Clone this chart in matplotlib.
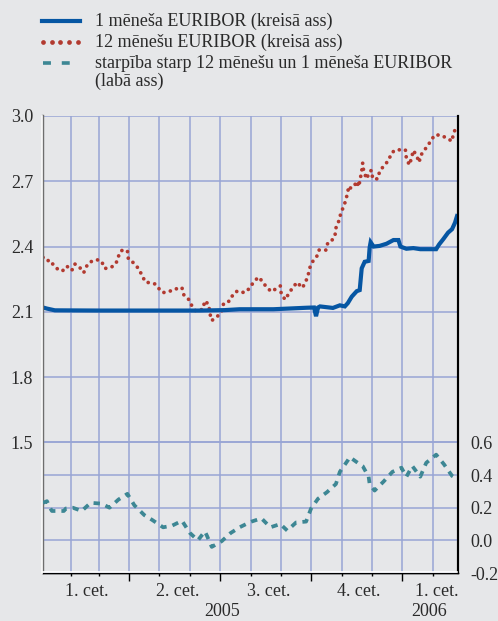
import pandas as pd
import matplotlib
matplotlib.use('Agg')
import matplotlib.pyplot as plt
import matplotlib.dates as mdates
from matplotlib.lines import Line2D

plt.rcParams['font.family'] = ['Liberation Serif', 'DejaVu Serif']

BG = '#e6e7e9'
GRID = '#98a5d5'
BLUE = '#0656a3'
RED = '#b23a30'
TEAL = '#3d8794'
TXT = '#2a2a2a'

# 1 month EURIBOR (left axis)
m1_dates = ['2005-01-04', '2005-01-08', '2005-01-16', '2005-03-02', '2005-04-21', '2005-06-11',
            '2005-07-06', '2005-07-21', '2005-08-24', '2005-09-27', '2005-10-04', '2005-10-06',
            '2005-10-08', '2005-10-10', '2005-10-23', '2005-10-30', '2005-11-04', '2005-11-07',
            '2005-11-11', '2005-11-16', '2005-11-19', '2005-11-21', '2005-11-24', '2005-11-28',
            '2005-11-29', '2005-11-30', '2005-12-03', '2005-12-09', '2005-12-16', '2005-12-23',
            '2005-12-28', '2005-12-30', '2006-01-05', '2006-01-12', '2006-01-19', '2006-02-04',
            '2006-02-07', '2006-02-11', '2006-02-16', '2006-02-20', '2006-02-23', '2006-02-25']
m1_vals = [2.12, 2.115, 2.107, 2.106, 2.106, 2.106,
           2.108, 2.112, 2.112, 2.119, 2.12, 2.08,
           2.12, 2.125, 2.118, 2.13, 2.125, 2.14,
           2.17, 2.195, 2.20, 2.30, 2.33, 2.334,
           2.395, 2.42, 2.40, 2.403, 2.413, 2.43,
           2.43, 2.40, 2.39, 2.393, 2.388, 2.388,
           2.41, 2.433, 2.464, 2.48, 2.51, 2.54]

# 12 month EURIBOR (left axis)
m12_dates = ['2005-01-04', '2005-01-08', '2005-01-11', '2005-01-14', '2005-01-16', '2005-01-20',
             '2005-01-24', '2005-01-28', '2005-02-02', '2005-02-05', '2005-02-09', '2005-02-14',
             '2005-02-18', '2005-02-21', '2005-02-27', '2005-03-04', '2005-03-07', '2005-03-10',
             '2005-03-16', '2005-03-20', '2005-03-22', '2005-03-25', '2005-03-30', '2005-03-31',
             '2005-04-05', '2005-04-10', '2005-04-14', '2005-04-17', '2005-04-21', '2005-04-27',
             '2005-05-02', '2005-05-05', '2005-05-10', '2005-05-15', '2005-05-21', '2005-05-24',
             '2005-05-26', '2005-05-31', '2005-06-03', '2005-06-07', '2005-06-14', '2005-06-16',
             '2005-06-20', '2005-06-21', '2005-06-23', '2005-06-29', '2005-07-03', '2005-07-05',
             '2005-07-11', '2005-07-15', '2005-07-19', '2005-07-26', '2005-07-31', '2005-08-04',
             '2005-08-09', '2005-08-13', '2005-08-17', '2005-08-22', '2005-08-27', '2005-08-31',
             '2005-09-01', '2005-09-05', '2005-09-09', '2005-09-13', '2005-09-17', '2005-09-22',
             '2005-09-25', '2005-09-28', '2005-09-30', '2005-10-03', '2005-10-07', '2005-10-09',
             '2005-10-16', '2005-10-18', '2005-10-22', '2005-10-25', '2005-10-26', '2005-10-29',
             '2005-10-31', '2005-11-03', '2005-11-05', '2005-11-07', '2005-11-08', '2005-11-10',
             '2005-11-13', '2005-11-16', '2005-11-18', '2005-11-21', '2005-11-22', '2005-11-23',
             '2005-11-26', '2005-11-29', '2005-12-01', '2005-12-02', '2005-12-07', '2005-12-09',
             '2005-12-13', '2005-12-18', '2005-12-21', '2005-12-25', '2006-01-01', '2006-01-04',
             '2006-01-05', '2006-01-08', '2006-01-10', '2006-01-12', '2006-01-15', '2006-01-18',
             '2006-01-19', '2006-01-23', '2006-01-27', '2006-01-31', '2006-02-03', '2006-02-09',
             '2006-02-15', '2006-02-20', '2006-02-21', '2006-02-24']
m12_vals = [2.35, 2.346, 2.32, 2.32, 2.31, 2.29,
            2.29, 2.31, 2.29, 2.32, 2.31, 2.28,
            2.32, 2.33, 2.34, 2.333, 2.30, 2.30,
            2.31, 2.335, 2.372, 2.384, 2.381, 2.342,
            2.326, 2.30, 2.266, 2.237, 2.234, 2.228,
            2.20, 2.188, 2.195, 2.197, 2.213, 2.21,
            2.176, 2.156, 2.127, 2.103, 2.112, 2.151,
            2.133, 2.094, 2.06, 2.081, 2.103, 2.14,
            2.15, 2.185, 2.196, 2.188, 2.208, 2.236,
            2.26, 2.24, 2.214, 2.193, 2.207, 2.219,
            2.181, 2.156, 2.188, 2.214, 2.236, 2.21,
            2.231, 2.268, 2.306, 2.334, 2.357, 2.384,
            2.384, 2.42, 2.429, 2.447, 2.485, 2.518,
            2.553, 2.587, 2.613, 2.652, 2.678, 2.668,
            2.674, 2.70, 2.675, 2.746, 2.784, 2.746,
            2.711, 2.746, 2.75, 2.712, 2.711, 2.744,
            2.77, 2.795, 2.83, 2.844, 2.845, 2.845,
            2.806, 2.775, 2.804, 2.842, 2.82, 2.787,
            2.816, 2.842, 2.867, 2.896, 2.914, 2.911,
            2.898, 2.884, 2.911, 2.95]

# spread 12m - 1m (right axis)
sp_dates = ['2005-01-04', '2005-01-08', '2005-01-11', '2005-01-13', '2005-01-17', '2005-01-25',
            '2005-01-27', '2005-02-03', '2005-02-12', '2005-02-21', '2005-03-04', '2005-03-12',
            '2005-03-21', '2005-03-30', '2005-04-06', '2005-04-16', '2005-04-24', '2005-05-05',
            '2005-05-14', '2005-05-24', '2005-06-01', '2005-06-09', '2005-06-16', '2005-06-18',
            '2005-06-23', '2005-07-03', '2005-07-12', '2005-07-21', '2005-07-31', '2005-08-02',
            '2005-08-12', '2005-08-21', '2005-08-31', '2005-09-07', '2005-09-16', '2005-09-26',
            '2005-10-01', '2005-10-08', '2005-10-17', '2005-10-26', '2005-10-30', '2005-11-07',
            '2005-11-09', '2005-11-17', '2005-11-22', '2005-11-28', '2005-11-29', '2005-12-04',
            '2005-12-13', '2005-12-22', '2005-12-31', '2006-01-05', '2006-01-11', '2006-01-19',
            '2006-01-25', '2006-02-04', '2006-02-12', '2006-02-20', '2006-02-24']
sp_vals = [0.23, 0.24, 0.20, 0.18, 0.18, 0.18,
           0.195, 0.20, 0.18, 0.23, 0.225, 0.20,
           0.25, 0.285, 0.215, 0.155, 0.125, 0.08,
           0.09, 0.12, 0.045, 0.0, 0.055, 0.03,
           -0.04, -0.005, 0.045, 0.08, 0.11, 0.115,
           0.135, 0.08, 0.10, 0.06, 0.11, 0.115,
           0.195, 0.255, 0.295, 0.345, 0.42, 0.49,
           0.51, 0.475, 0.455, 0.39, 0.345, 0.305,
           0.36, 0.42, 0.445, 0.39, 0.455, 0.39,
           0.475, 0.525, 0.465, 0.395, 0.38]

left_ticks = [1.5, 1.8, 2.1, 2.4, 2.7, 3.0]
right_ticks = [-0.2, 0.0, 0.2, 0.4, 0.6]
right_labels = ['-0.2', '0.0', '0.2', '0.4', '0.6']
q_labels = ['1. cet.', '2. cet.', '3. cet.', '4. cet.', '1. cet.']
q_dates = ['2005-02-17', '2005-05-20', '2005-08-19', '2005-11-18', '2006-02-05']
year_labels = ['2005', '2006']
year_dates = ['2005-07-03', '2006-01-28']

legend_texts = ['1 mēneša EURIBOR (kreisā ass)',
                '12 mēnešu EURIBOR (kreisā ass)',
                'starpība starp 12 mēnešu un 1 mēneša EURIBOR\n(labā ass)']

W, H = 498, 621
fig = plt.figure(figsize=(W / 100, H / 100), dpi=100, facecolor=BG)
ax = fig.add_axes([43 / W, 1 - 573 / H, (458 - 43) / W, (573 - 116) / H])
ax.set_facecolor(BG)
ax2 = ax.twinx()

x1 = pd.to_datetime(m1_dates)
x12 = pd.to_datetime(m12_dates)
xs = pd.to_datetime(sp_dates)

ax.plot(x12, m12_vals, color=RED, lw=2.7, dashes=(0.01, 1.75),
        dash_capstyle='round', zorder=3)
ax.plot(x1, m1_vals, color=BLUE, lw=3.0, solid_joinstyle='miter', zorder=4)
ax2.plot(xs, sp_vals, color=TEAL, lw=2.7, dashes=(1.7, 1.6), zorder=3)

ax.set_xlim(pd.Timestamp('2005-01-04'), pd.Timestamp('2006-02-26'))
ax.set_ylim(0.9, 3.0)
ax2.set_ylim(-0.2, 2.6)

ax.set_yticks(left_ticks)
ax.set_yticklabels(['%.1f' % v for v in left_ticks])
ax2.set_yticks(right_ticks)
ax2.set_yticklabels(right_labels)

ax.xaxis.set_major_locator(mdates.MonthLocator(bymonth=[1, 4, 7, 10]))
ax.xaxis.set_minor_locator(mdates.MonthLocator())
ax.xaxis.set_major_formatter(plt.NullFormatter())
ax.tick_params(axis='x', which='major', length=6, width=1, color='black', direction='out')
ax.tick_params(axis='x', which='minor', length=2.5, width=1, color='black', direction='out')
ax.tick_params(axis='y', length=0, pad=7, labelsize=13, labelcolor=TXT)
ax2.tick_params(axis='y', length=0, pad=9, labelsize=13, labelcolor=TXT)

ax.set_axisbelow(True)
ax.grid(axis='x', which='both', color=GRID, lw=1.1)
ax.grid(axis='y', which='major', color=GRID, lw=1.1)
ax2.set_axisbelow(True)
ax2.grid(axis='y', color=GRID, lw=1.1)

for a in (ax, ax2):
    a.spines['top'].set_visible(False)
    a.spines['left'].set_color('#6e6e6e')
    a.spines['left'].set_linewidth(1.6)
    a.spines['right'].set_color('black')
    a.spines['right'].set_linewidth(1.5)
    a.spines['bottom'].set_color('black')
    a.spines['bottom'].set_linewidth(1.0)

# white edge lines of the frame
fig.add_artist(Line2D([41.5 / W, 41.5 / W], [1 - 116 / H, 1 - 573 / H], color='white', lw=1.2))
fig.add_artist(Line2D([43 / W, 457 / W], [1 - 571.5 / H, 1 - 571.5 / H], color='white', lw=1.2))

# quarter and year labels
tr = ax.get_xaxis_transform()
for lab, d in zip(q_labels, q_dates):
    ax.text(pd.Timestamp(d), -18 / 457, lab, transform=tr, ha='center', va='center',
            fontsize=13, color=TXT)
for lab, d in zip(year_labels, year_dates):
    ax.text(pd.Timestamp(d), -39 / 457, lab, transform=tr, ha='center', va='center',
            fontsize=13, color=TXT)

# legend drawn by hand
def fx(x):
    return x / W

def fy(y):
    return 1 - y / H

fig.add_artist(Line2D([fx(42), fx(80)], [fy(21), fy(21)], color=BLUE, lw=3.0))
fig.add_artist(Line2D([fx(43 + 8.7 * i) for i in range(5)], [fy(42)] * 5, color=RED,
                      lw=0, marker='o', markersize=3.4, markeredgewidth=0))
fig.add_artist(Line2D([fx(43), fx(80)], [fy(63), fy(63)], color=TEAL, lw=2.6, dashes=(2.2, 3.0)))
fig.text(fx(95), fy(21), legend_texts[0], fontsize=13, color=TXT, va='center')
fig.text(fx(95), fy(42), legend_texts[1], fontsize=13, color=TXT, va='center')
fig.text(fx(95), fy(55), legend_texts[2], fontsize=13, color=TXT, va='top', linespacing=1.05)

fig.savefig('out.png', dpi=100, facecolor=BG)
